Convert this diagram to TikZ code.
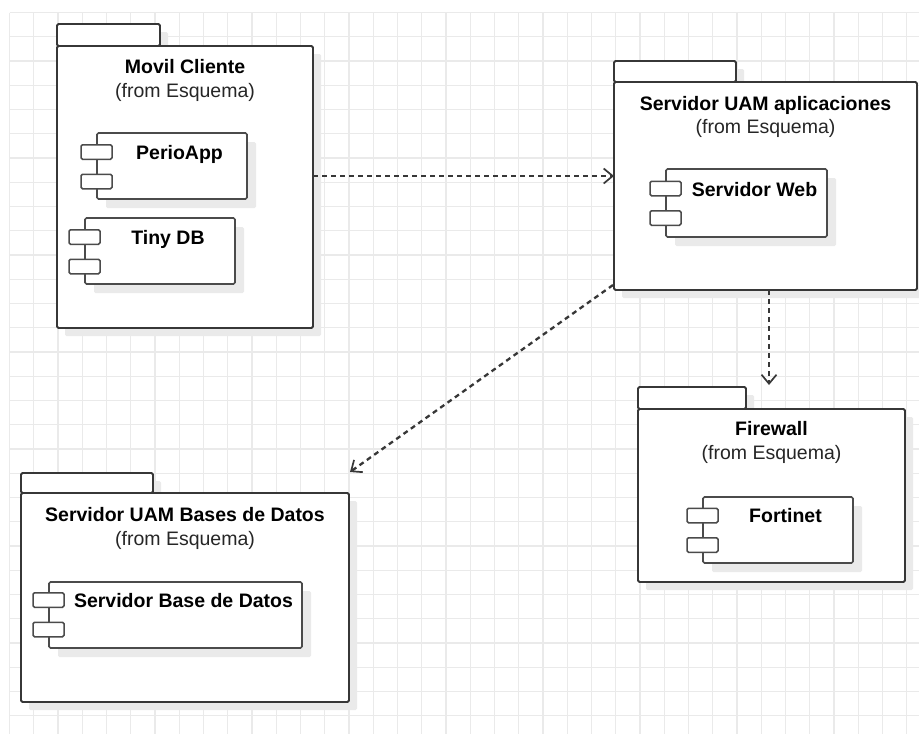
\documentclass[tikz,border=0pt]{standalone}
\usepackage{fontspec}
\setmainfont{Liberation Sans}
\usetikzlibrary{arrows.meta,calc,shadows}

\definecolor{gridc}{RGB}{234,234,234}
\definecolor{linec}{RGB}{55,55,55}
\definecolor{compc}{RGB}{75,75,75}
\definecolor{shadec}{RGB}{234,234,234}

\tikzset{
  pkgshape/.style={draw=linec, line width=1.9pt, fill=white, rounded corners=1.5pt,
    inner sep=0pt, outer sep=0pt, anchor=north west,
    general shadow={fill=shadec, shadow xshift=8pt, shadow yshift=-8pt}},
  compshape/.style={draw=compc, line width=1.7pt, fill=white, rounded corners=1.5pt,
    inner sep=0pt, outer sep=0pt, anchor=north west, minimum height=66pt,
    general shadow={fill=shadec, shadow xshift=9pt, shadow yshift=-9pt}},
  portshape/.style={draw=compc, line width=1.5pt, fill=white, rounded corners=1.5pt,
    inner sep=0pt, outer sep=0pt, minimum width=31pt, minimum height=14.5pt},
  pkgtitle/.style={anchor=base, font=\fontsize{19.5}{22}\selectfont\bfseries, text=black},
  pkgsub/.style={anchor=base, font=\fontsize{19.5}{22}\selectfont, text=black!85},
  comptitle/.style={anchor=base, font=\fontsize{19.5}{22}\selectfont\bfseries, text=black},
  dep/.style={draw=linec, line width=2.3pt, dash pattern=on 5pt off 4pt,
    -{Straight Barb[length=9pt, width=15pt, line width=1.7pt]}}
}

\begin{document}
\begin{tikzpicture}[x=1pt, y=-1pt]
\useasboundingbox (0,0) rectangle (919,734);
\fill[white] (0,0) rectangle (919,734);

% background grid
\foreach \k in {0,...,37} {
  \draw[gridc, line width=1.3pt] ({9.5+24.25*\k},12.5) -- ({9.5+24.25*\k},734);
}
\foreach \k in {0,...,29} {
  \draw[gridc, line width=1.3pt] (9.5,{12.5+24.25*\k}) -- (919,{12.5+24.25*\k});
}

% ---------------- Movil Cliente ----------------
\node[pkgshape, minimum width=103pt, minimum height=22pt] (movilTab) at (57,24) {};
\node[pkgshape, minimum width=256pt, minimum height=282pt] (movil) at (57,46) {};
\node[pkgtitle] (movilName) at (185,73) {Movil Cliente};
\node[pkgsub] (movilFrom) at (185,97) {(from Esquema)};

\node[compshape, minimum width=150pt] (perio) at (97,133) {};
\node[portshape] (perioP1) at (96.5,152) {};
\node[portshape] (perioP2) at (96.5,181.5) {};
\node[comptitle] (perioName) at (179.5,159) {PerioApp};

\node[compshape, minimum width=150pt] (tiny) at (85,218) {};
\node[portshape] (tinyP1) at (84.5,237) {};
\node[portshape] (tinyP2) at (84.5,266.5) {};
\node[comptitle] (tinyName) at (168,244) {Tiny DB};

% ---------------- Servidor UAM aplicaciones ----------------
\node[pkgshape, minimum width=122pt, minimum height=21pt] (appTab) at (614,61) {};
\node[pkgshape, minimum width=303pt, minimum height=208pt] (app) at (614,82) {};
\node[pkgtitle] (appName) at (765.5,110) {Servidor UAM aplicaciones};
\node[pkgsub] (appFrom) at (765.5,133.5) {(from Esquema)};

\node[compshape, minimum width=161pt, minimum height=68pt] (web) at (666,169) {};
\node[portshape] (webP1) at (665.5,188.5) {};
\node[portshape] (webP2) at (665.5,218) {};
\node[comptitle] (webName) at (754.5,196) {Servidor Web};

% ---------------- Firewall ----------------
\node[pkgshape, minimum width=108pt, minimum height=22pt] (fwTab) at (638,387) {};
\node[pkgshape, minimum width=267pt, minimum height=173pt] (fw) at (638,409) {};
\node[pkgtitle] (fwName) at (771.5,435.5) {Firewall};
\node[pkgsub] (fwFrom) at (771.5,459.5) {(from Esquema)};

\node[compshape, minimum width=150pt] (forti) at (703,497) {};
\node[portshape] (fortiP1) at (702.5,515.5) {};
\node[portshape] (fortiP2) at (702.5,545) {};
\node[comptitle] (fortiName) at (785.5,522.5) {Fortinet};

% ---------------- Servidor UAM Bases de Datos ----------------
\node[pkgshape, minimum width=132pt, minimum height=20pt] (dbTab) at (21,473) {};
\node[pkgshape, minimum width=328pt, minimum height=209pt] (db) at (21,493) {};
\node[pkgtitle] (dbName) at (185,521) {Servidor UAM Bases de Datos};
\node[pkgsub] (dbFrom) at (185,545.5) {(from Esquema)};

\node[compshape, minimum width=253pt] (dbComp) at (49,582) {};
\node[portshape] (dbP1) at (48.5,600) {};
\node[portshape] (dbP2) at (48.5,629.5) {};
\node[comptitle] (dbCompName) at (183.5,607.5) {Servidor Base de Datos};

% ---------------- dependencies ----------------
\coordinate (dbTip) at (350,472);
\coordinate (fwTip) at (769,385);
\draw[dep] (movil.east |- 0,176) -- (app.west |- 0,176);
\draw[dep] ($(app.south west)+(-1,-5)$) -- (dbTip);
\draw[dep] (app.south -| fwTip) -- (fwTip);
\end{tikzpicture}
\end{document}
